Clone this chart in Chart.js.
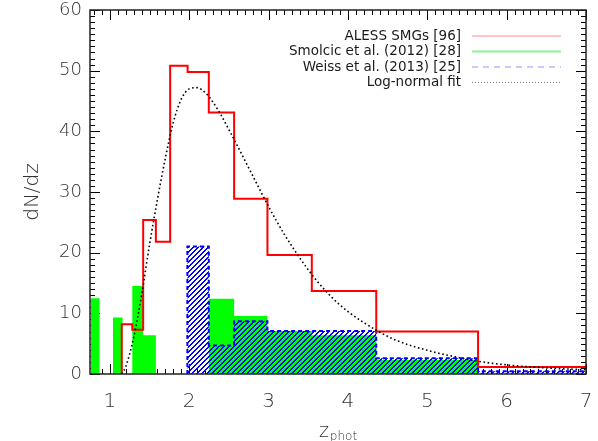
<!DOCTYPE html>
<html><head><meta charset="utf-8">
<script src="https://cdn.jsdelivr.net/npm/chart.js@4/dist/chart.umd.min.js"></script>
<style>html,body{margin:0;padding:0;background:#fff;}canvas{display:block;}</style>
</head><body>
<canvas id="c" width="598" height="441"></canvas>
<script>
// ---- data ----
const alessEdges   = [1.15, 1.283, 1.42, 1.58, 1.76, 1.98, 2.247, 2.566, 2.986, 3.545, 4.357, 5.64, 7.0];
const alessCounts  = [8.2, 7.3, 25.4, 21.8, 50.8, 49.8, 43.1, 28.9, 19.6, 13.7, 7.0, 1.15];
const smolcicEdges = [0.76, 0.87, 1.04, 1.16, 1.283, 1.42, 1.58, 2.247, 2.566, 2.986, 3.545, 4.357, 5.64, 7.0];
const smolcicCounts= [12.5, 0, 9.3, 0, 14.5, 6.4, 0, 12.4, 9.55, 7.1, 6.4, 2.3, 0];
const weissEdges   = [1.977, 2.247, 2.566, 2.986, 4.357, 5.64, 7.0];
const weissCounts  = [21.0, 4.7, 8.7, 7.1, 2.6, 0.45];
const fitZ     = [1.15, 1.2, 1.3, 1.4, 1.5, 1.6, 1.7, 1.8, 1.9, 2.0, 2.1, 2.2, 2.3, 2.4, 2.5, 2.6, 2.8, 3.0, 3.2, 3.4, 3.6, 3.8, 4.0, 4.36, 4.6, 5.0, 5.4, 5.64, 6.0, 6.5, 7.0];
const fitDNdz  = [0, 1.2, 6.0, 13.0, 21.3, 28.8, 35.6, 41.5, 45.3, 47.0, 47.2, 46.4, 44.8, 42.7, 40.3, 37.8, 32.7, 27.6, 23.0, 19.0, 15.5, 12.6, 10.3, 7.2, 5.6, 3.9, 2.7, 2.1, 1.5, 1.0, 0.7];
const xTickValues = [1, 2, 3, 4, 5, 6, 7];
const yTickValues = [0, 10, 20, 30, 40, 50, 60];
const legendLabels = ['ALESS SMGs [96]', 'Smolcic et al. (2012) [28]', 'Weiss et al. (2013) [25]', 'Log-normal fit'];
const xTitleMain = 'z', xTitleSub = 'phot', yTitle = 'dN/dz';

function stepPoints(edges, counts, fromZero) {
  const pts = [];
  if (fromZero) pts.push({x: edges[0], y: 0});
  counts.forEach((c, i) => pts.push({x: edges[i], y: c}));
  pts.push({x: edges[edges.length - 1], y: counts[counts.length - 1]});
  return pts;
}

// hatch pattern: crisp diagonal "/" stripes
const T = 5;
const pc = document.createElement('canvas');
pc.width = T; pc.height = T;
const pctx = pc.getContext('2d');
pctx.fillStyle = '#0000ff';
for (let i = 0; i < T; i++) {
  const yy = T - 1 - i;
  pctx.fillRect(i, yy, 1, 1);
  pctx.fillRect((i + 1) % T, yy, 1, 1);
}
const ctx0 = document.getElementById('c').getContext('2d');
const hatch = ctx0.createPattern(pc, 'repeat');

const FONT = 'DejaVu Sans';

const frameTicks = {
  id: 'frameTicks',
  beforeDatasetsDraw(chart) {
    const {ctx, chartArea: a, scales: {x, y}} = chart;
    ctx.save();
    ctx.strokeStyle = '#000'; ctx.lineWidth = 1;
    ctx.beginPath();
    for (let k = Math.ceil(x.min * 10); k <= Math.floor(x.max * 10); k++) {
      const px = Math.round(x.getPixelForValue(k / 10)) + 0.5;
      const L = (k % 10 === 0) ? 10 : 5;
      ctx.moveTo(px, a.bottom); ctx.lineTo(px, a.bottom - L);
      ctx.moveTo(px, a.top); ctx.lineTo(px, a.top + L);
    }
    for (let v = y.min; v <= y.max; v++) {
      const py = Math.round(y.getPixelForValue(v)) + 0.5;
      const L = (v % 10 === 0) ? 10 : 5;
      ctx.moveTo(a.left, py); ctx.lineTo(a.left + L, py);
      ctx.moveTo(a.right, py); ctx.lineTo(a.right - L, py);
    }
    ctx.stroke();
    ctx.restore();
  },
  afterDatasetsDraw(chart) {
    const {ctx, chartArea: a} = chart;
    ctx.save();
    ctx.strokeStyle = '#222'; ctx.lineWidth = 1.5;
    ctx.strokeRect(a.left, a.top, a.right - a.left, a.bottom - a.top);
    ctx.restore();
  },
  afterDraw(chart) {
    const {ctx, chartArea: a} = chart;
    ctx.save();
    // legend
    const styles = [
      {c: 'rgba(255,60,60,0.6)', w: 1.2, d: []},
      {c: 'rgba(0,230,0,0.45)', w: 2, d: []},
      {c: 'rgba(60,60,255,0.55)', w: 1.2, d: [6, 5]},
      {c: 'rgba(0,0,0,0.5)', w: 1, d: [1, 2]}
    ];
    const ys = [36, 51.5, 67, 82.5];
    ctx.font = '13.5px "' + FONT + '"';
    ctx.fillStyle = '#1a1a1a';
    ctx.textAlign = 'right'; ctx.textBaseline = 'middle';
    legendLabels.forEach((t, i) => {
      ctx.fillText(t, 461, ys[i]);
      ctx.beginPath();
      ctx.strokeStyle = styles[i].c; ctx.lineWidth = styles[i].w; ctx.setLineDash(styles[i].d);
      ctx.moveTo(472, ys[i]); ctx.lineTo(561, ys[i]); ctx.stroke();
    });
    ctx.setLineDash([]);
    // y title
    ctx.save();
    ctx.translate(33, (a.top + a.bottom) / 2);
    ctx.rotate(-Math.PI / 2);
    ctx.font = '300 20px "' + FONT + '"';
    ctx.fillStyle = '#333'; ctx.textAlign = 'center'; ctx.textBaseline = 'middle';
    ctx.fillText(yTitle, 0, 0);
    ctx.restore();
    // x title with subscript
    ctx.fillStyle = '#333'; ctx.textAlign = 'left'; ctx.textBaseline = 'alphabetic';
    ctx.font = '300 19px "' + FONT + '"';
    const zw = ctx.measureText(xTitleMain).width;
    ctx.font = '300 12px "' + FONT + '"';
    const sw = ctx.measureText(xTitleSub).width;
    const x0 = (a.left + a.right) / 2 - (zw + sw + 1) / 2;
    ctx.font = '300 19px "' + FONT + '"';
    ctx.fillText(xTitleMain, x0, 437);
    ctx.font = '300 12px "' + FONT + '"';
    ctx.fillText(xTitleSub, x0 + zw + 1, 440);
    ctx.restore();
  }
};

new Chart(document.getElementById('c'), {
  type: 'line',
  data: {
    datasets: [
      { label: legendLabels[3], data: fitZ.map((z, i) => ({x: z, y: fitDNdz[i]})),
        borderColor: '#000', borderWidth: 1.6, borderDash: [1.6, 2.6], pointRadius: 0,
        cubicInterpolationMode: 'monotone', fill: false, order: 0 },
      { label: legendLabels[0], data: stepPoints(alessEdges, alessCounts, true),
        stepped: true, borderColor: '#ff0000', borderWidth: 2, pointRadius: 0, fill: false, order: 1 },
      { label: legendLabels[2], data: stepPoints(weissEdges, weissCounts, true),
        stepped: true, borderColor: '#0000ff', borderWidth: 2, borderDash: [4, 3], pointRadius: 0,
        fill: 'origin', backgroundColor: hatch, order: 2 },
      { label: legendLabels[1], data: stepPoints(smolcicEdges, smolcicCounts, false),
        stepped: true, borderWidth: 0, borderColor: 'rgba(0,0,0,0)', pointRadius: 0,
        fill: 'origin', backgroundColor: '#00ff00', order: 3 }
    ]
  },
  options: {
    responsive: false, animation: false, devicePixelRatio: 1,
    layout: { padding: { top: 10, right: 12, left: 0, bottom: 0 } },
    plugins: { legend: { display: false }, tooltip: { enabled: false }, filler: { propagate: false } },
    scales: {
      x: {
        type: 'linear', min: 0.75, max: 7,
        afterBuildTicks: s => { s.ticks = xTickValues.map(v => ({value: v})); },
        afterFit: s => { s.height = 67; s.paddingLeft = 0; s.paddingRight = 0; },
        grid: { display: false, drawTicks: false },
        border: { display: false },
        ticks: { padding: 16, color: '#333', font: { family: FONT, size: 20, weight: '300' }, maxRotation: 0, autoSkip: false,
                 callback: v => String(v) }
      },
      y: {
        type: 'linear', min: 0, max: 60,
        afterBuildTicks: s => { s.ticks = yTickValues.map(v => ({value: v})); },
        afterFit: s => { s.width = 90; s.paddingTop = 0; s.paddingBottom = 0; },
        grid: { display: false, drawTicks: false },
        border: { display: false },
        ticks: { padding: 8, color: '#333', font: { family: FONT, size: 18, weight: '300' }, autoSkip: false,
                 callback: v => String(v) }
      }
    }
  },
  plugins: [frameTicks]
});
</script>
</body></html>
